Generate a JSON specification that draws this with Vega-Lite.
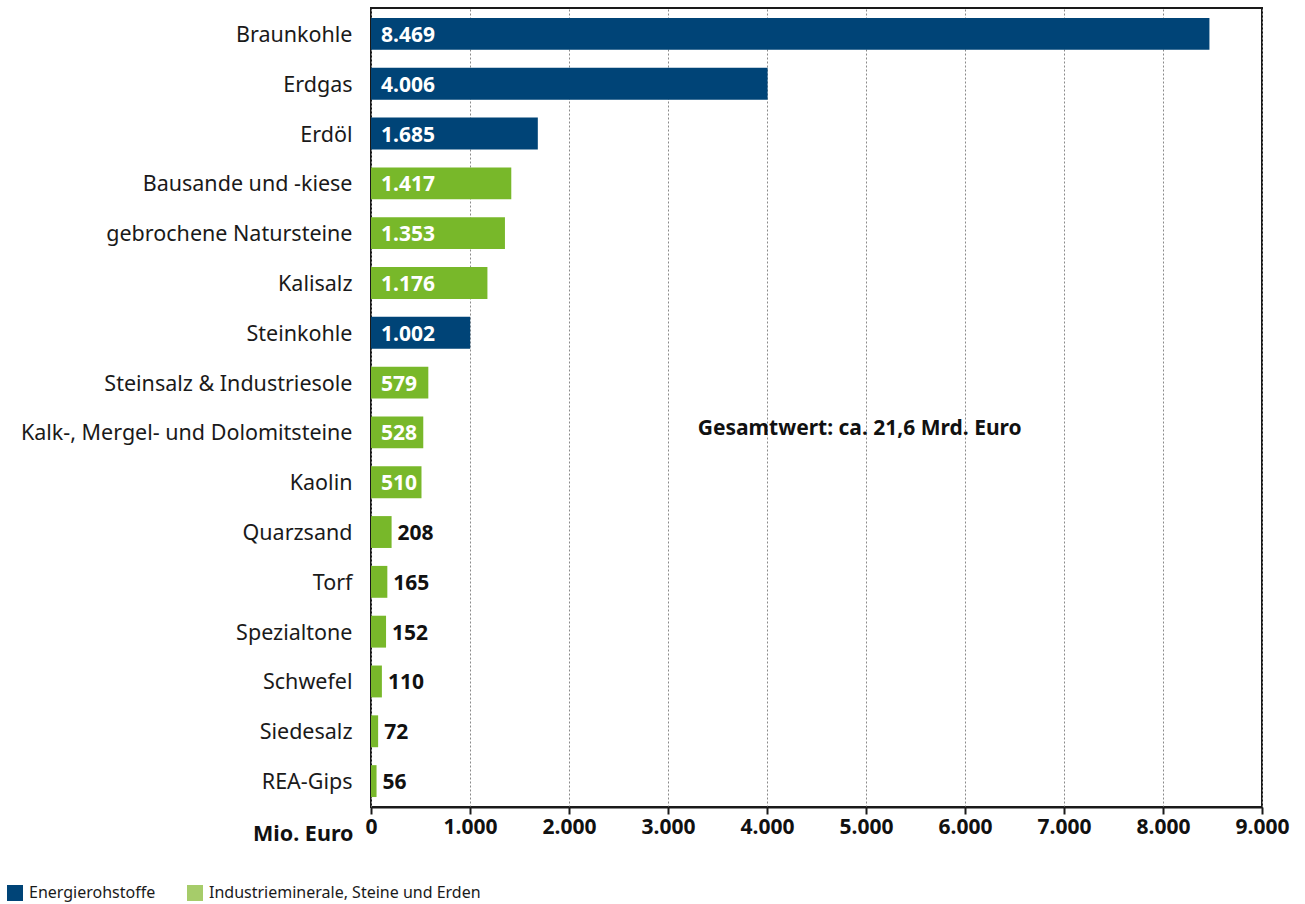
{
  "$schema": "https://vega.github.io/schema/vega-lite/v6.json",
  "width": 891,
  "height": 799,
  "autosize": {"type": "none"},
  "padding": {"left": 371, "top": 8, "right": 43, "bottom": 97},
  "background": "white",
  "config": {
    "font": "Noto Sans",
    "locale": {"number": {"decimal": ",", "thousands": ".", "grouping": [3], "currency": ["", " €"]}},
    "view": {"stroke": "#1a1a1a", "strokeWidth": 2}
  },
  "datasets": {
    "main": [
      {"Rohstoff": "Braunkohle", "Wert": 8469, "Gruppe": "Energierohstoffe"},
      {"Rohstoff": "Erdgas", "Wert": 4006, "Gruppe": "Energierohstoffe"},
      {"Rohstoff": "Erdöl", "Wert": 1685, "Gruppe": "Energierohstoffe"},
      {"Rohstoff": "Bausande und -kiese", "Wert": 1417, "Gruppe": "Industrieminerale, Steine und Erden"},
      {"Rohstoff": "gebrochene Natursteine", "Wert": 1353, "Gruppe": "Industrieminerale, Steine und Erden"},
      {"Rohstoff": "Kalisalz", "Wert": 1176, "Gruppe": "Industrieminerale, Steine und Erden"},
      {"Rohstoff": "Steinkohle", "Wert": 1002, "Gruppe": "Energierohstoffe"},
      {"Rohstoff": "Steinsalz & Industriesole", "Wert": 579, "Gruppe": "Industrieminerale, Steine und Erden"},
      {"Rohstoff": "Kalk-, Mergel- und Dolomitsteine", "Wert": 528, "Gruppe": "Industrieminerale, Steine und Erden"},
      {"Rohstoff": "Kaolin", "Wert": 510, "Gruppe": "Industrieminerale, Steine und Erden"},
      {"Rohstoff": "Quarzsand", "Wert": 208, "Gruppe": "Industrieminerale, Steine und Erden"},
      {"Rohstoff": "Torf", "Wert": 165, "Gruppe": "Industrieminerale, Steine und Erden"},
      {"Rohstoff": "Spezialtone", "Wert": 152, "Gruppe": "Industrieminerale, Steine und Erden"},
      {"Rohstoff": "Schwefel", "Wert": 110, "Gruppe": "Industrieminerale, Steine und Erden"},
      {"Rohstoff": "Siedesalz", "Wert": 72, "Gruppe": "Industrieminerale, Steine und Erden"},
      {"Rohstoff": "REA-Gips", "Wert": 56, "Gruppe": "Industrieminerale, Steine und Erden"}
    ],
    "note": [
      {"Rohstoff": "Kalk-, Mergel- und Dolomitsteine", "Wert": 3300, "Text": "Gesamtwert: ca. 21,6 Mrd. Euro"}
    ]
  },
  "data": {"name": "main"},
  "encoding": {
    "y": {
      "field": "Rohstoff",
      "type": "nominal",
      "sort": null,
      "scale": {"paddingInner": 0.36, "paddingOuter": 0.2},
      "axis": {
        "title": null,
        "domain": false,
        "ticks": false,
        "labelFontSize": 21.5,
        "labelColor": "#1a1a1a",
        "labelPadding": 19,
        "labelOffset": 2,
        "labelLimit": 400
      }
    }
  },
  "resolve": {"scale": {"color": "independent"}},
  "layer": [
    {
      "mark": {"type": "bar"},
      "encoding": {
        "x": {
          "field": "Wert",
          "type": "quantitative",
          "scale": {"domain": [0, 9000], "nice": false},
          "axis": {
            "values": [0, 1000, 2000, 3000, 4000, 5000, 6000, 7000, 8000, 9000],
            "format": ",d",
            "grid": true,
            "gridColor": "#8a8a8a",
            "gridDash": [2, 2],
            "gridWidth": 1,
            "domainColor": "#1a1a1a",
            "domainWidth": 2,
            "tickColor": "#1a1a1a",
            "tickSize": 7,
            "tickWidth": 2,
            "labelFontSize": 21,
            "labelFontWeight": "bold",
            "labelColor": "#111111",
            "labelPadding": 2,
            "labelFlush": false,
            "title": "Mio. Euro",
            "titleFontSize": 21.5,
            "titleFontWeight": "bold",
            "titleColor": "#111111",
            "titleAlign": "right",
            "titleBaseline": "alphabetic",
            "titleX": -18,
            "titleY": 33
          }
        },
        "color": {
          "field": "Gruppe",
          "type": "nominal",
          "scale": {"domain": ["Energierohstoffe", "Industrieminerale, Steine und Erden"], "range": ["#004477", "#78b82a"]},
          "legend": null
        }
      }
    },
    {
      "mark": {"type": "bar", "opacity": 0},
      "encoding": {
        "x": {"field": "Wert", "type": "quantitative"},
        "color": {
          "field": "Gruppe",
          "type": "nominal",
          "scale": {"domain": ["Energierohstoffe", "Industrieminerale, Steine und Erden"], "range": ["#004477", "#a6cc6a"]},
          "legend": {
            "title": null,
            "orient": "none",
            "direction": "horizontal",
            "legendX": -364,
            "legendY": 877,
            "symbolType": "square",
            "symbolSize": 256,
            "symbolStrokeWidth": 0,
            "symbolOpacity": 1,
            "labelFontSize": 16,
            "labelColor": "#1a1a1a",
            "labelOffset": 6,
            "labelLimit": 500,
            "columnPadding": 31
          }
        }
      }
    },
    {
      "transform": [{"filter": "datum.Wert >= 500"}],
      "mark": {"type": "text", "align": "left", "baseline": "middle", "dx": 10, "dy": 2, "fontSize": 21, "fontWeight": "bold", "color": "white"},
      "encoding": {
        "x": {"datum": 0, "type": "quantitative"},
        "text": {"field": "Wert", "type": "quantitative", "format": ",d"}
      }
    },
    {
      "transform": [{"filter": "datum.Wert < 500"}],
      "mark": {"type": "text", "align": "left", "baseline": "middle", "dx": 6, "dy": 2, "fontSize": 21, "fontWeight": "bold", "color": "#111111"},
      "encoding": {
        "x": {"field": "Wert", "type": "quantitative"},
        "text": {"field": "Wert", "type": "quantitative", "format": ",d"}
      }
    },
    {
      "data": {"name": "note"},
      "mark": {"type": "text", "align": "left", "baseline": "middle", "dy": -3, "fontSize": 21, "fontWeight": "bold", "color": "#111111"},
      "encoding": {
        "x": {"field": "Wert", "type": "quantitative"},
        "text": {"field": "Text"}
      }
    }
  ]
}
